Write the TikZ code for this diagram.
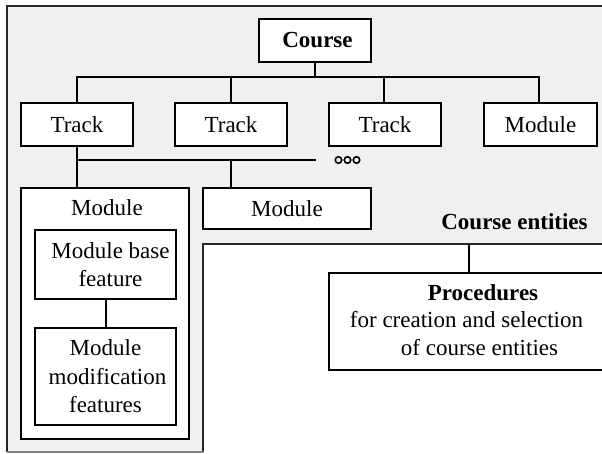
\documentclass[tikz,border=0pt]{standalone}
\usepackage{fontspec}
\setmainfont{Liberation Serif}
\definecolor{panelgrey}{RGB}{240,240,240}
\begin{document}
\begin{tikzpicture}[x=1pt,y=-1pt,
  font=\fontsize{23}{28.5}\selectfont,
  box/.style={draw, fill=white, line width=2.2pt, inner sep=0pt, align=center},
  link/.style={line width=2pt},
  frame/.style={line width=1.6pt, black!85},
  dot/.style={circle, draw, line width=1.6pt, minimum size=6.5pt, inner sep=0pt},
  label/.style={inner sep=0pt, align=center}]
\useasboundingbox (0,0) rectangle (602,453);
\clip (0,0) rectangle (602,453);

% grey panel holding the course entities
\fill[panelgrey] (7,6) -- (612,6) -- (612,244) -- (203,244) -- (203,452) -- (7,452) -- cycle;
\draw[frame] (7,452) -- (7,6) -- (612,6);
\draw[frame] (612,244) -- (203,244) -- (203,452);
\draw[frame, gray] (7,452) -- (203,452);

% top level
\node[box, minimum width=112pt, minimum height=43pt] (course) at (315,40.5) {\hspace{5pt}\textbf{Course}};
\node[box, minimum width=112pt, minimum height=43pt] (t1) at (77,124.5) {Track};
\node[box, minimum width=112pt, minimum height=43pt] (t2) at (231,124.5) {Track};
\node[box, minimum width=112pt, minimum height=43pt] (t3) at (385,124.5) {Track};
\node[box, minimum width=113pt, minimum height=43pt] (m0) at (540.5,124.5) {Module};

\coordinate (bus) at (0,77);
\draw[link] (course.south) -- (course.south |- bus);
\draw[link] (t1.north) -- (t1.north |- bus) -- (539,77) -- (539,103);
\draw[link] (t2.north) -- (t2.north |- bus);
\draw[link] (384,103) -- (384,77);

% modules under the first track
\node[box, minimum width=168pt, minimum height=251pt] (mbig) at (105,313.5) {};
\node[label] (mbigtitle) at (107,208) {Module};
\node[box, minimum width=168pt, minimum height=41pt] (m2) at (287,208.5) {Module};

\node[box, minimum width=141pt, minimum height=69pt] (base) at (105.5,264.5)
  {\hspace{10pt}Module base\\\hspace{10pt}feature};
\node[box, minimum width=141pt, minimum height=97pt] (modif) at (105.5,376.5)
  {Module\hspace{8pt}\\\hspace{4pt}modification\\features};
\draw[link] (base.south) -- (modif.north);

\coordinate (bus2) at (0,160);
\coordinate (bus2end) at (315.5,160);
\coordinate (tap) at (231,160);
\draw[link] (t1.south) -- (t1.south |- mbig.north);
\draw[link] (t1.south |- bus2) -- (bus2end);
\draw[link] (tap) -- (tap |- m2.north);

\node[dot] (d1) at (338.5,160) {};
\node[dot] (d2) at (347.5,160) {};
\node[dot] (d3) at (356.5,160) {};

% caption of the panel
\node[label] (entities) at (514.5,222) {\textbf{Course entities}};

% procedures box outside the panel
\coordinate (stemtop) at (469,244);
\node[box, minimum width=291pt, minimum height=97pt] (proc) at (474.5,321.5) {};
\draw[link] (stemtop) -- (stemtop |- proc.north);
\node[label] (p1) at (483,293) {\textbf{Procedures}};
\node[label] (p2) at (466.5,320) {for creation and selection};
\node[label] (p3) at (479.5,348) {of course entities};
\end{tikzpicture}
\end{document}
